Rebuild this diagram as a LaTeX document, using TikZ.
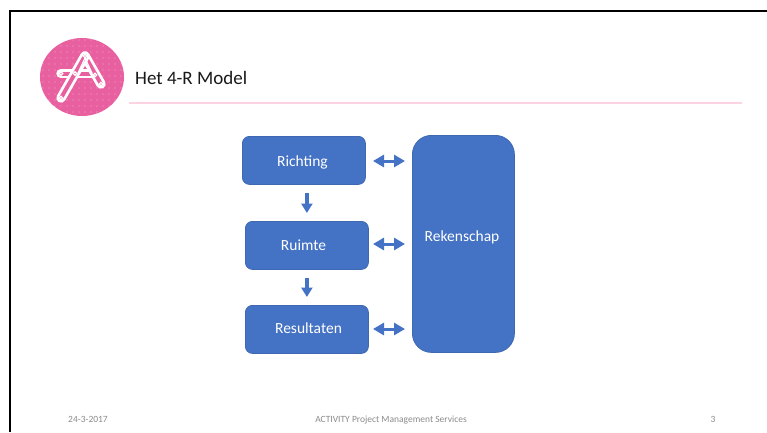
\documentclass[tikz,border=0pt]{standalone}
\usepackage{fontspec}
\setmainfont{Carlito}
\usetikzlibrary{arrows.meta,calc}
\definecolor{boxblue}{HTML}{4472C4}
\definecolor{boxedge}{HTML}{3F68B2}
\definecolor{logopink}{HTML}{E8609F}
\definecolor{rulepink}{HTML}{FBD3E2}
\definecolor{foot}{HTML}{8C8C8C}
\tikzset{
  x=1pt,y=-1pt,
  bluebox/.style={draw=boxedge,line width=.8pt,fill=boxblue,rounded corners=7pt,
    minimum width=123pt,minimum height=48pt,inner sep=0pt,anchor=north west},
  bigbox/.style={bluebox,rounded corners=19pt,minimum width=102pt,minimum height=217pt},
  boxtext/.style={text=white,font=\fontsize{15.5}{17}\selectfont,inner sep=0pt},
  flow/.style={-{Triangle[width=11pt,length=9.5pt]},boxblue,line width=3.6pt,shorten >=8pt,shorten <=8pt},
  link/.style={{Triangle[width=12pt,length=11pt]}-{Triangle[width=12pt,length=11pt]},boxblue,line width=3pt,shorten >=7pt,shorten <=7pt},
  footer/.style={text=foot,font=\fontsize{9.5}{11}\selectfont,inner sep=0pt,anchor=base},
  logoline/.style={white,line cap=round,line width=9.5pt},
  logoinner/.style={logopink,line cap=round,line width=4pt},
  logohole/.style={white,fill=logopink,line width=1.3pt},
}
\begin{document}
\begin{tikzpicture}
\useasboundingbox (0,0) rectangle (767,432);
\fill[white] (0,0) rectangle (767,432);
% slide frame
\draw[black,line width=1.4pt] (10,432) -- (10,11) -- (767,11);
% logo
\begin{scope}
  \clip (82,77) ellipse [x radius=42, y radius=39];
  \fill[logopink] (40,36) rectangle (125,118);
  \foreach \i in {0,...,13} \foreach \j in {0,...,13}
    \fill[white,opacity=.45] ({43+6*\i},{40+6*\j}) circle (.55pt);
\end{scope}
\draw[logoline] (61,73.5) -- (95,73.5);
\draw[logoinner] (61,73.5) -- (95,73.5);
\draw[logoline] (85,56) -- (101,84);
\draw[logoinner] (85,56) -- (101,84);
\draw[logoline] (85,56) -- (61,98);
\draw[logoinner] (85,56) -- (61,98);
\draw[white,line width=1.2pt] (85,58) -- (78,73) (85,58) -- (92,73);
\foreach \p in {(85,56),(61,98),(101,84),(61,73.5),(75,73.5),(95,75)}
  \draw[logohole] \p circle (1.8pt);
% title
\node[anchor=west,inner sep=0pt,font=\fontsize{19}{21}\selectfont,text=black!90] (title) at (135,77.5) {Het 4-R Model};
\coordinate (ruleL) at (129,103);
\coordinate (ruleR) at (742,103);
\draw[rulepink,line width=1.1pt] (ruleL) -- (ruleR);
% boxes
\node[bluebox] (richting) at (242,136) {};
\node[bluebox] (ruimte) at (245,221) {};
\node[bluebox] (resultaten) at (245,305) {};
\node[bigbox] (rekenschap) at (412,135) {};
\node[boxtext] (richtingtext) at (302.5,162.5) {Richting};
\node[boxtext] (ruimtetext) at (303.5,245.5) {Ruimte};
\node[boxtext] (resultatentext) at (308.5,328) {Resultaten};
\node[boxtext] (rekenschaptext) at (462,237) {Rekenschap};
% connectors
\draw[flow] ($(richting.south)+(3,0)$) -- (ruimte.north);
\draw[flow] (ruimte.south) -- (resultaten.north -| ruimte.south);
\coordinate (l1) at (366,161);
\coordinate (l2) at (366,244);
\coordinate (l3) at (366,329);
\draw[link] (l1) -- (l1 -| rekenschap.west);
\draw[link] (l2) -- (l2 -| rekenschap.west);
\draw[link] (l3) -- (l3 -| rekenschap.west);
% footer
\node[footer] (date) at (88,422) {24-3-2017};
\node[footer] (org) at (391,422) {ACTIVITY Project Management Services};
\node[footer] (page) at (713,422) {3};
\end{tikzpicture}
\end{document}
